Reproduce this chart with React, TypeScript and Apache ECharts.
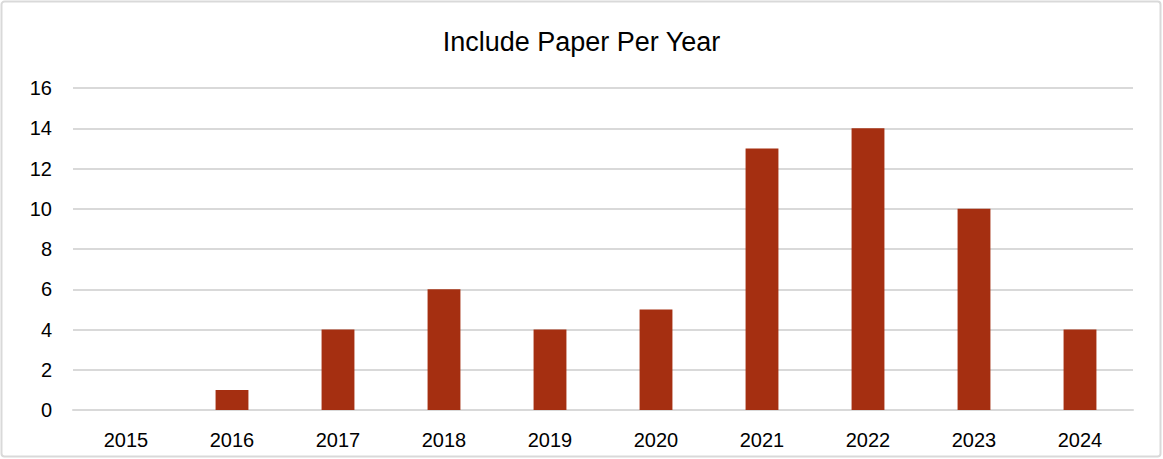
import React, { useEffect, useRef } from "react";
import * as echarts from "echarts";

const categories = ["2015", "2016", "2017", "2018", "2019", "2020", "2021", "2022", "2023", "2024"];
const papers = [0, 1, 4, 6, 4, 5, 13, 14, 10, 4];
const titleText = "Include Paper Per Year";

const FONT = "'Liberation Sans Narrow', 'Arial Narrow', 'Liberation Sans', Arial, sans-serif";

export default function App() {
  const ref = useRef<HTMLDivElement>(null);
  useEffect(() => {
    document.body.style.margin = "0";
    const chart = echarts.init(ref.current!, null, { renderer: "svg" });
    chart.setOption({
      animation: false,
      backgroundColor: "#ffffff",
      title: {
        text: titleText,
        left: "center",
        top: 23,
        textStyle: { fontFamily: FONT, fontSize: 27, fontWeight: "normal", color: "#000000" },
      },
      graphic: [
        {
          type: "rect",
          shape: { x: 1.5, y: 1.5, width: 1159, height: 455, r: 3 },
          style: { fill: "none", stroke: "#d9d9d9", lineWidth: 2 },
          silent: true,
        },
      ],
      grid: { left: 73, right: 30, top: 88, bottom: 49 },
      xAxis: {
        type: "category",
        data: categories,
        axisLine: { show: true, lineStyle: { color: "#d9d9d9", width: 2 } },
        axisTick: { show: false },
        axisLabel: { fontFamily: FONT, fontSize: 20, color: "#000000", margin: 20 },
      },
      yAxis: {
        type: "value",
        min: 0,
        max: 16,
        interval: 2,
        axisLine: { show: false },
        axisTick: { show: false },
        splitLine: { lineStyle: { color: "#d9d9d9", width: 2 } },
        axisLabel: { fontFamily: FONT, fontSize: 20, color: "#000000", margin: 21 },
      },
      series: [
        {
          type: "bar",
          data: papers,
          barWidth: "31%",
          itemStyle: { color: "#A52F11" },
        },
      ],
    });
    return () => chart.dispose();
  }, []);
  return <div ref={ref} style={{ width: 1163, height: 459 }} />;
}
